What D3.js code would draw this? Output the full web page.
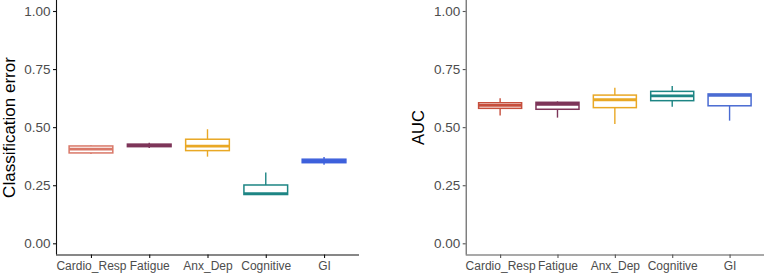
<!DOCTYPE html>
<html>
<head>
<meta charset="utf-8">
<script src="https://cdn.jsdelivr.net/npm/d3@7"></script>
<style>
  body { margin: 0; background: #fff; }
  text { font-family: "Liberation Sans", Arial, sans-serif; }
</style>
</head>
<body>
<div id="chart"></div>
<script>
// groups on the x axis
var groups = ["Cardio_Resp", "Fatigue", "Anx_Dep", "Cognitive", "GI"];
var yTicks = [0, 0.25, 0.5, 0.75, 1];

// [lower whisker, q1, median, q3, upper whisker] per group
var errorStats = [
  [0.384, 0.389, 0.405, 0.419, 0.422],
  [0.410, 0.416, 0.421, 0.427, 0.433],
  [0.373, 0.399, 0.418, 0.448, 0.491],
  [0.210, 0.210, 0.214, 0.251, 0.305],
  [0.338, 0.347, 0.354, 0.362, 0.371]
];
var aucStats = [
  [0.550, 0.581, 0.594, 0.605, 0.624],
  [0.541, 0.577, 0.598, 0.607, 0.611],
  [0.514, 0.584, 0.618, 0.638, 0.670],
  [0.588, 0.614, 0.635, 0.654, 0.677],
  [0.528, 0.592, 0.637, 0.643, 0.643]
];

var leftColors = ["#d97868", "#7d3559", "#e9a825", "#1d8584", "#3d60dc"];
var rightColors = ["#c64f3d", "#7d3559", "#e9a825", "#1d8584", "#4a6bd2"];

var svg = d3.select("#chart")
  .append("svg")
  .attr("width", 768)
  .attr("height", 277);

function drawPanel(opts) {
  var g = svg.append("g");

  // ggplot style discrete scale: 0.6 unit padding on both ends
  var x = d3.scaleLinear()
    .domain([0.4, groups.length + 0.6])
    .range([opts.left, opts.right]);
  var y = d3.scaleLinear()
    .domain([0, 1])
    .range([243.3, 11]);

  var unit = x(2) - x(1);
  var bw = unit * 0.75;

  // axes
  var yAxis = g.append("g")
    .attr("transform", "translate(" + opts.left + ",0)")
    .call(d3.axisLeft(y).tickValues(yTicks).tickFormat(d3.format(".2f")).tickSize(3).tickPadding(2.5));
  var xAxis = g.append("g")
    .attr("transform", "translate(0,254.5)")
    .call(d3.axisBottom(x).tickValues(d3.range(1, groups.length + 1))
      .tickFormat(function(d) { return groups[d - 1]; }).tickSize(3.5).tickPadding(3.5));

  [yAxis, xAxis].forEach(function(ax) {
    ax.select(".domain").attr("stroke", opts.axisColor).attr("stroke-width", 1.1);
    ax.selectAll(".tick line").attr("stroke", opts.axisColor).attr("stroke-width", 1.1);
    ax.selectAll(".tick text")
      .attr("fill", "#4d4d4d")
      .style("font-family", "Liberation Sans, Arial, sans-serif");
  });
  yAxis.selectAll(".tick text").style("font-size", "13.5px");
  xAxis.selectAll(".tick text").style("font-size", "12px");
  yAxis.select(".domain").attr("d", "M0.5,0V254.5");
  xAxis.select(".domain").attr("d", "M" + opts.left + ",0.5H" + opts.right);

  // y title
  g.append("text")
    .attr("transform", "translate(" + opts.titleX + ",127.5) rotate(-90)")
    .attr("text-anchor", "middle")
    .attr("fill", "#000")
    .style("font-size", opts.titleSize + "px")
    .text(opts.title);

  // boxes
  var boxes = g.selectAll(".box")
    .data(opts.stats)
    .enter()
    .append("g")
    .attr("class", "box");

  boxes.append("line")
    .attr("x1", function(d, i) { return x(i + 1); })
    .attr("x2", function(d, i) { return x(i + 1); })
    .attr("y1", function(d) { return y(d[3]); })
    .attr("y2", function(d) { return y(d[4]); })
    .attr("stroke", function(d, i) { return opts.colors[i]; })
    .attr("stroke-width", 1.4);

  boxes.append("line")
    .attr("x1", function(d, i) { return x(i + 1); })
    .attr("x2", function(d, i) { return x(i + 1); })
    .attr("y1", function(d) { return y(d[1]); })
    .attr("y2", function(d) { return y(d[0]); })
    .attr("stroke", function(d, i) { return opts.colors[i]; })
    .attr("stroke-width", 1.4);

  boxes.append("rect")
    .attr("x", function(d, i) { return x(i + 1) - bw / 2; })
    .attr("width", bw)
    .attr("y", function(d) { return y(d[3]); })
    .attr("height", function(d) { return y(d[1]) - y(d[3]); })
    .attr("fill", "#fff")
    .attr("stroke", function(d, i) { return opts.colors[i]; })
    .attr("stroke-width", 1.5);

  boxes.append("line")
    .attr("x1", function(d, i) { return x(i + 1) - bw / 2; })
    .attr("x2", function(d, i) { return x(i + 1) + bw / 2; })
    .attr("y1", function(d) { return y(d[2]); })
    .attr("y2", function(d) { return y(d[2]); })
    .attr("stroke", function(d, i) { return opts.colors[i]; })
    .attr("stroke-width", 2.8);
}

drawPanel({
  left: 56, right: 359, stats: errorStats, colors: leftColors,
  axisColor: "#111", title: "Classification error", titleX: 15, titleSize: 17
});

drawPanel({
  left: 465.7, right: 764, stats: aucStats, colors: rightColors,
  axisColor: "#555", title: "AUC", titleX: 424, titleSize: 16.5
});
</script>
</body>
</html>
